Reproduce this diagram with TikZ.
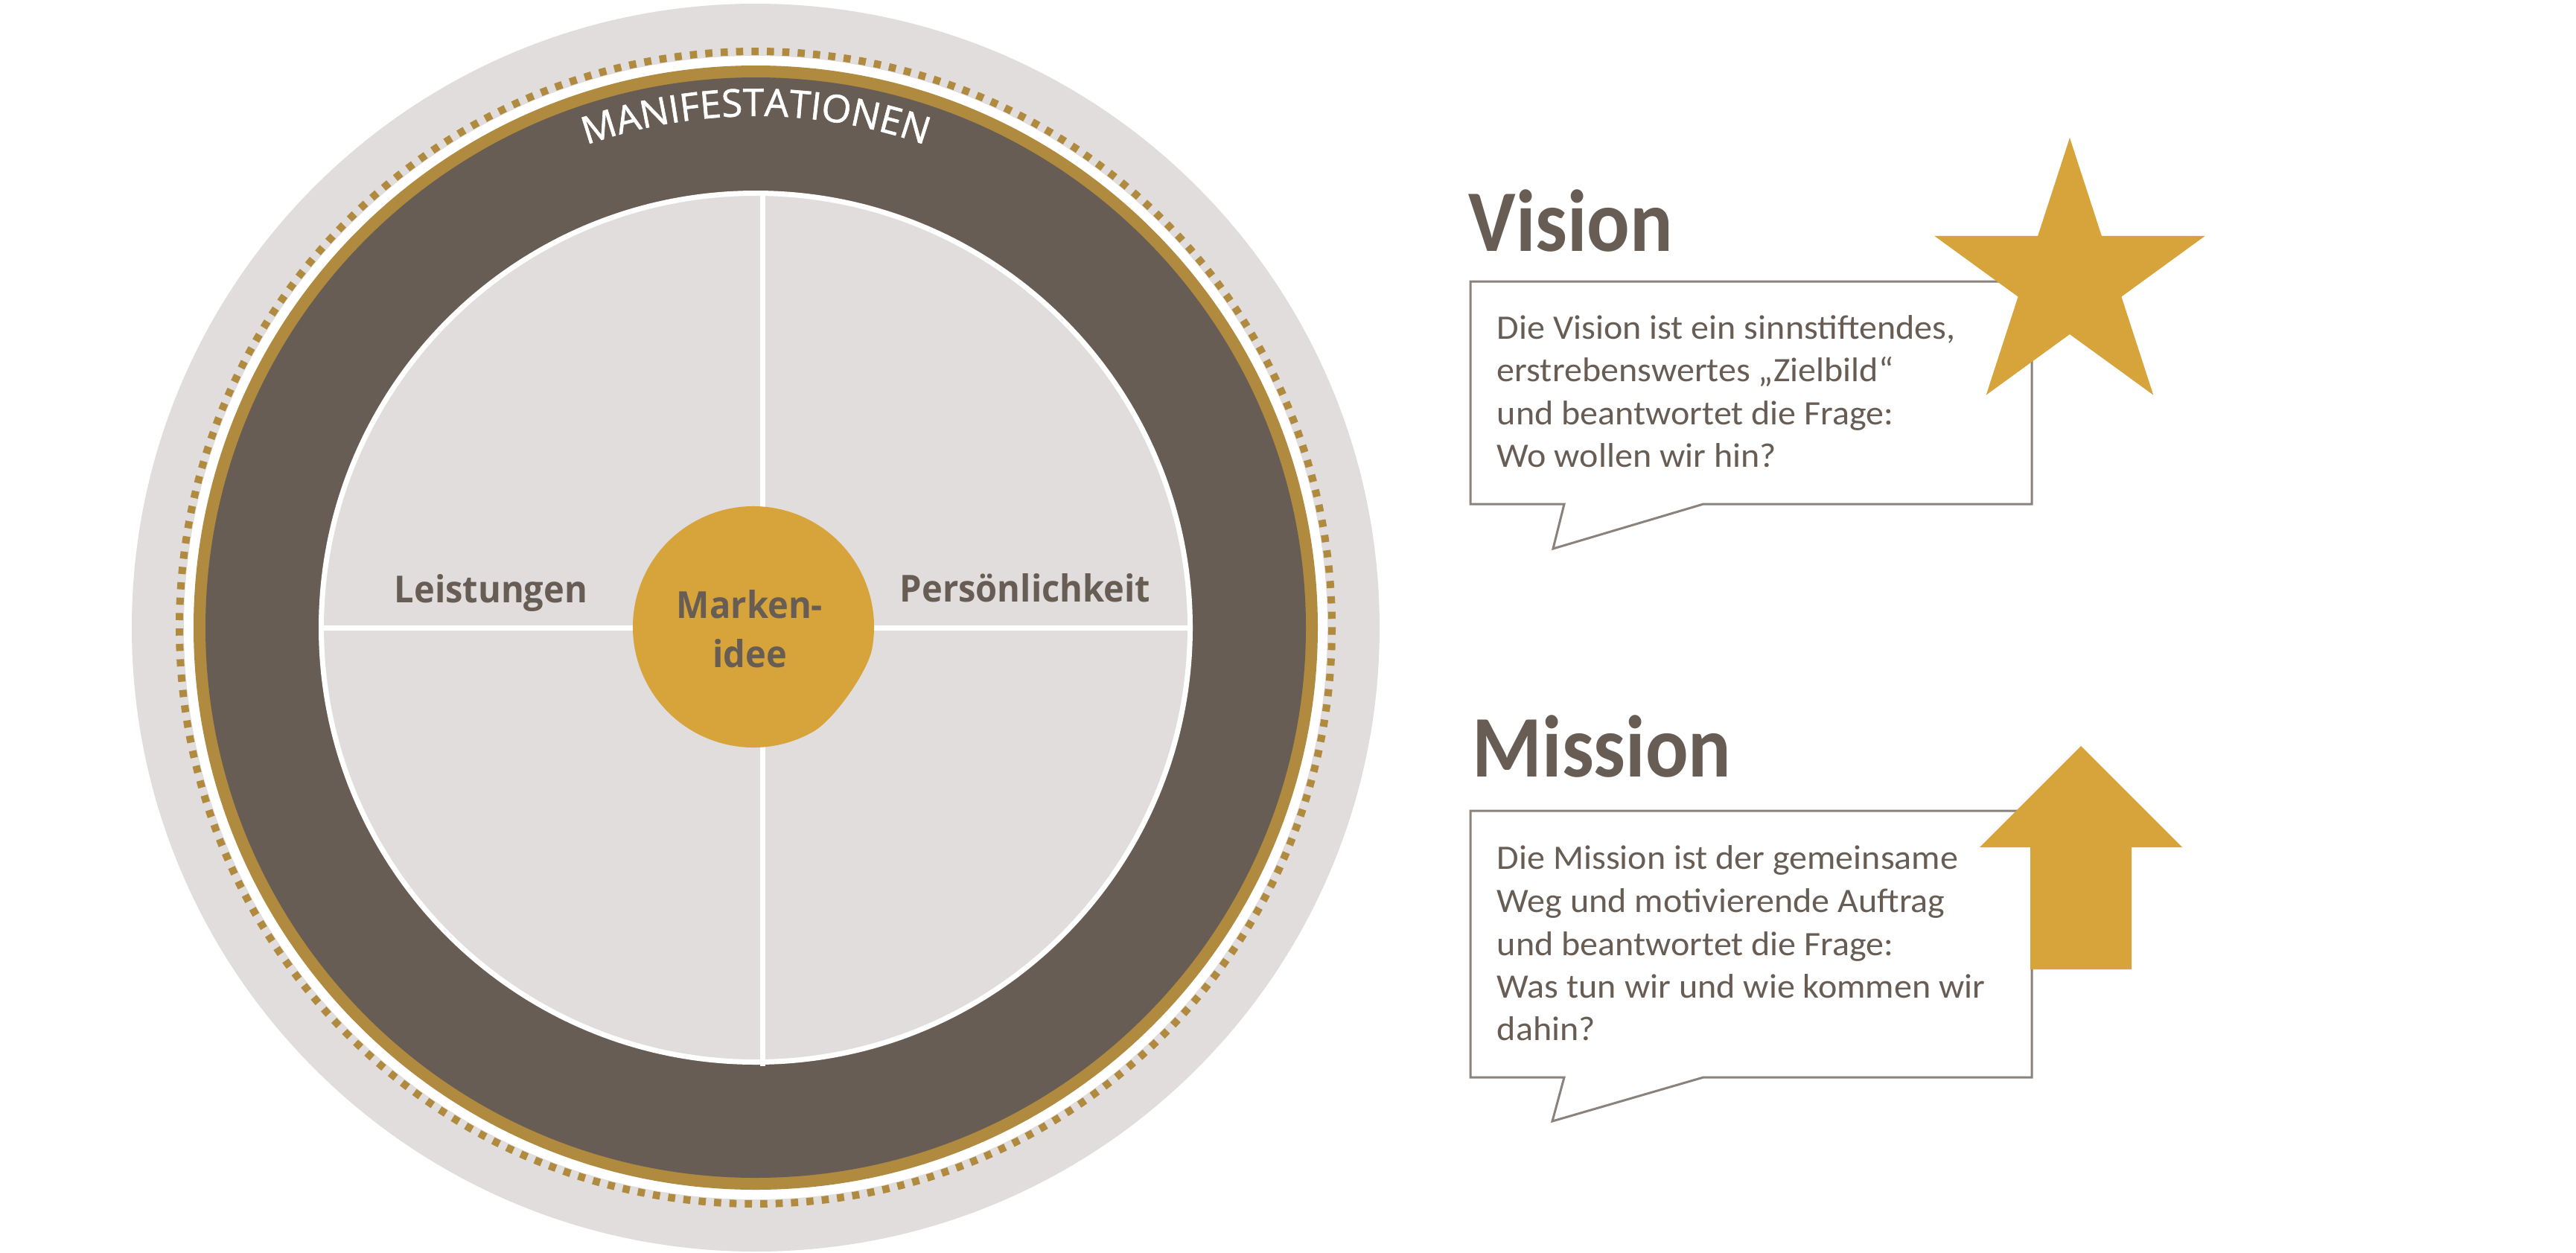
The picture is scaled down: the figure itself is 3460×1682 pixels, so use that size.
\documentclass[tikz,border=0pt]{standalone}
\usepackage{fontspec}
\usetikzlibrary{decorations.text}
\newfontfamily\carl{Carlito}
\newfontfamily\carltit{Carlito}[FakeStretch=0.91]
\newfontfamily\carlbody{Carlito}[FakeStretch=1.045]
\newfontfamily\osans{Open Sans}[FakeStretch=0.94]
\newfontfamily\osmani{Open Sans}[FakeBold=1.2]
\definecolor{bggrey}{HTML}{E0DDDC}
\definecolor{darkring}{HTML}{675D54}
\definecolor{goldring}{HTML}{B08A3E}
\definecolor{gold}{HTML}{D6A43B}
\definecolor{txt}{HTML}{675D54}
\definecolor{boxline}{HTML}{8A827D}
\newcommand\labfont{\osans\bfseries\fontsize{12.5}{15}\selectfont}
\newcommand\manifnt{\osmani\fontsize{12.8}{14}\selectfont}
\newcommand\titfont{\carltit\bfseries\fontsize{29.5}{34}\selectfont}
\newcommand\bodyfont{\carlbody\fontsize{11.5}{14}\selectfont}
\tikzset{
  lab/.style={font=\labfont, text=txt, inner sep=0pt, anchor=base west},
  tit/.style={font=\titfont, text=txt, inner sep=0pt, anchor=base west},
  bodyline/.style={font=\bodyfont, text=txt, inner sep=0pt, anchor=base west},
  callout/.style={fill=white, draw=boxline, line width=0.75pt, line join=miter},
  sep/.style={draw=white, line width=1.75pt},
}
\begin{document}
\begin{tikzpicture}[x=0.25pt,y=-0.25pt]
\useasboundingbox (0,0) rectangle (3460,1682);
% rings
\coordinate (c) at (1015,843);
\fill[bggrey] (c) circle[radius=838];
\fill[white] (c) circle[radius=768];
\draw[goldring, line width=2.5pt, dash pattern=on 2.4pt off 2.7736pt] (c) circle[radius=774];
\fill[goldring] (c) circle[radius=755];
\fill[darkring] (c) circle[radius=739];
\fill[bggrey] (c) circle[radius=581];
\draw[sep] (c) circle[radius=583.5];
\coordinate (hl) at (432,843);
\coordinate (hr) at (1598,843);
\coordinate (vt) at (1024,260);
\coordinate (vb) at (1024,1432);
\draw[sep] (hl) -- (hr);
\draw[sep] (vt) -- (vb);
% manifestationen
\path[decorate, decoration={text along path, text={|\manifnt|MANIFESTATIONEN}, text align=center, text color=white}]
  (1015,843) ++(-150:687) arc[start angle=-150, end angle=-30, radius=687];
% center blob
\fill[gold] (1012,842) ++(60:162) arc[start angle=60, end angle=370, radius=162]
  .. controls (1167,900) and (1121,966) .. (1093,982.3) -- cycle;
\node[lab] (leist) at (529,809) {Leistungen};
\node[lab] (pers) at (1208,808) {Persönlichkeit};
\node[lab, anchor=base] (mk1) at (1007,830) {Marken-};
\node[lab, anchor=base] (mk2) at (1007,896) {idee};
% Vision
\node[tit] (vis) at (1972,337) {Vision};
\path[callout] (1975,378) -- (2729,378) -- (2729,677) -- (2288,677) -- (2086,737) -- (2101,677) -- (1975,677) -- cycle;
\node[bodyline] (v1) at (2010,455) {Die Vision ist ein sinnstiftendes,};
\node[bodyline] (v2) at (2010,512.5) {erstrebenswertes „Zielbild“};
\node[bodyline] (v3) at (2010,570) {und beantwortet die Frage:};
\node[bodyline] (v4) at (2010,627.5) {Wo wollen wir hin?};
\begin{scope}[shift={(2780,376)}]
\fill[gold] (-90:191) -- (-54:73) -- (-18:191) -- (18:73) -- (54:191) -- (90:73) -- (126:191) -- (162:73) -- (198:191) -- (234:73) -- cycle;
\end{scope}
% Mission
\node[tit] (mis) at (1977,1043) {Mission};
\path[callout] (1975,1089) -- (2729,1089) -- (2729,1447) -- (2288,1447) -- (2085,1506) -- (2101,1447) -- (1975,1447) -- cycle;
\node[bodyline] (m1) at (2010,1167) {Die Mission ist der gemeinsame};
\node[bodyline] (m2) at (2010,1225) {Weg und motivierende Auftrag};
\node[bodyline] (m3) at (2010,1283) {und beantwortet die Frage:};
\node[bodyline] (m4) at (2010,1340) {Was tun wir und wie kommen wir};
\node[bodyline] (m5) at (2010,1397) {dahin?};
\fill[gold] (2795,1002) -- (2931,1138) -- (2863,1138) -- (2863,1302) -- (2727,1302) -- (2727,1138) -- (2659,1138) -- cycle;
\end{tikzpicture}
\end{document}
